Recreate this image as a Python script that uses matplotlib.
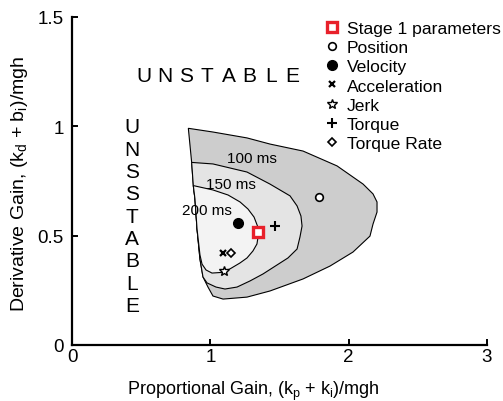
import matplotlib
matplotlib.use("Agg")
import matplotlib.pyplot as plt

plt.rcParams["font.family"] = ["Liberation Sans", "DejaVu Sans"]

# stability boundaries for three feedback delays
outer_x = [0.841, 1.019, 1.265, 1.431, 1.670, 1.916, 2.104, 2.176, 2.205, 2.205,
           2.176, 2.154, 2.031, 1.865, 1.670, 1.431, 1.265, 1.092, 1.019, 0.983,
           0.947, 0.925, 0.904, 0.889, 0.877, 0.865]
outer_y = [0.991, 0.974, 0.947, 0.919, 0.887, 0.819, 0.736, 0.691, 0.654, 0.608,
           0.553, 0.498, 0.425, 0.361, 0.302, 0.247, 0.219, 0.210, 0.224, 0.265,
           0.311, 0.393, 0.530, 0.668, 0.729, 0.835]

mid_x = [0.865, 1.019, 1.265, 1.431, 1.576, 1.627, 1.655, 1.663, 1.648, 1.627,
         1.561, 1.482, 1.381, 1.287, 1.193, 1.106, 1.041, 0.976, 0.947, 0.925,
         0.904, 0.889, 0.877]
mid_y = [0.835, 0.828, 0.791, 0.736, 0.682, 0.636, 0.590, 0.544, 0.494, 0.439,
         0.398, 0.366, 0.325, 0.293, 0.265, 0.256, 0.265, 0.284, 0.311, 0.393,
         0.530, 0.668, 0.729]

inner_x = [0.877, 1.019, 1.128, 1.215, 1.272, 1.316, 1.341, 1.347, 1.337, 1.308,
           1.265, 1.214, 1.142, 1.084, 1.012, 0.969, 0.940, 0.925, 0.904, 0.889]
inner_y = [0.729, 0.709, 0.686, 0.654, 0.622, 0.585, 0.544, 0.503, 0.462, 0.430,
           0.398, 0.375, 0.348, 0.332, 0.329, 0.343, 0.370, 0.412, 0.530, 0.668]

region_labels = ["100 ms", "150 ms", "200 ms"]
region_label_x = [1.30, 1.15, 0.975]
region_label_y = [0.854, 0.735, 0.616]
region_colors = ["#cdcdcd", "#e4e4e4", "#f3f3f3"]

# gains for each feedback signal
stage1 = (1.345, 0.519)
point_names = ["Position", "Velocity", "Acceleration", "Jerk", "Torque", "Torque Rate"]
point_x = [1.786, 1.198, 1.090, 1.101, 1.468, 1.148]
point_y = [0.679, 0.560, 0.419, 0.339, 0.543, 0.419]
point_style = [
    dict(marker="o", ms=5.5, mfc="white", mec="black", mew=1.2),
    dict(marker="o", ms=7, mfc="black", mec="black"),
    dict(marker="x", ms=4.5, mec="black", mew=1.6),
    dict(marker="*", ms=7.5, mfc="white", mec="black", mew=1.0),
    dict(marker="+", ms=6.5, mec="black", mew=1.5),
    dict(marker="D", ms=4.2, mfc="white", mec="black", mew=1.2),
]

word = "UNSTABLE"
word_v = "UNSSTABLE"

fig = plt.figure(figsize=(5.03, 4.02), dpi=100)
ax = fig.add_axes([72 / 503, 56 / 402, 415 / 503, 328 / 402])

for xs, ys, c in zip([outer_x, mid_x, inner_x], [outer_y, mid_y, inner_y], region_colors):
    ax.fill(xs, ys, facecolor=c, edgecolor="black", linewidth=0.8, zorder=1)

for lab, lx, ly in zip(region_labels, region_label_x, region_label_y):
    ax.text(lx, ly, lab, fontsize=11, ha="center", va="center", zorder=2)

ax.plot([stage1[0]], [stage1[1]], ls="none", marker="s", ms=7.5, mfc="white",
        mec="#e8202a", mew=2.4, label="Stage 1 parameters", zorder=4)
for name, px, py, st in zip(point_names, point_x, point_y, point_style):
    ax.plot([px], [py], ls="none", label=name, zorder=3, **st)

# spaced-out region words
for i, ch in enumerate(word):
    ax.text(0.52 + i * 0.1527, 1.231, ch, fontsize=15, ha="center", va="center")
for i, ch in enumerate(word_v):
    ax.text(0.434, 0.998 - i * 0.1023, ch, fontsize=15, ha="center", va="center")

ax.set_xlim(0, 3)
ax.set_ylim(0, 1.5)
ax.set_xticks([0, 1, 2, 3])
ax.set_yticks([0, 0.5, 1, 1.5])
ax.set_yticklabels(["0", "0.5", "1", "1.5"])
ax.spines["top"].set_visible(False)
ax.spines["right"].set_visible(False)
for s in ("left", "bottom"):
    ax.spines[s].set_linewidth(1.6)
ax.tick_params(direction="in", length=4, width=1.4, labelsize=13.5)
ax.tick_params(axis="x", pad=2)
ax.tick_params(axis="y", pad=6)

ax.set_xlabel("Proportional Gain, (k$_\\mathregular{p}$ + k$_\\mathregular{i}$)/mgh", fontsize=13)
ax.set_ylabel("Derivative Gain, (k$_\\mathregular{d}$ + b$_\\mathregular{i}$)/mgh", fontsize=14)
ax.xaxis.set_label_coords((253 - 72) / 415, -0.103)
ax.yaxis.set_label_coords(-0.1, 0.495)

ax.legend(loc="upper left", bbox_to_anchor=(324 / 503, 1 - 22 / 402),
          bbox_transform=fig.transFigure, frameon=False, fontsize=12.6,
          handlelength=0.9, handletextpad=0.4, labelspacing=0.22,
          borderpad=0, borderaxespad=0, numpoints=1)

fig.savefig("out.png", dpi=100)
